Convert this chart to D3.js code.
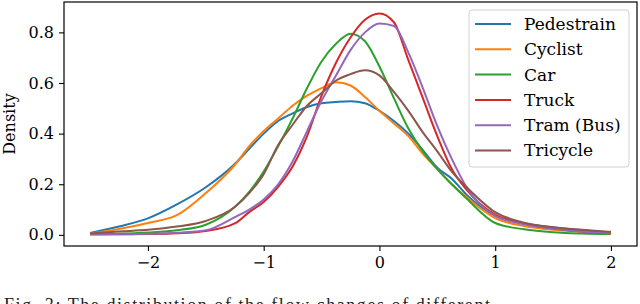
<!DOCTYPE html>
<html>
<head>
<meta charset="utf-8">
<script src="https://cdn.jsdelivr.net/npm/d3@7"></script>
<style>
  html, body { margin: 0; padding: 0; background: #fff; overflow: hidden; }
  svg { display: block; font-family: "DejaVu Serif", serif; }
</style>
</head>
<body>
<svg id="chart" width="640" height="304"></svg>
<script>
// shared x grid (flow change)
var xs = [-2.5, -2.25, -2, -1.75, -1.5, -1.25, -1.125, -1, -0.875, -0.75, -0.625, -0.5, -0.375, -0.25, -0.125,
          0, 0.125, 0.25, 0.375, 0.5, 0.625, 0.75, 1, 1.25, 1.5, 1.75, 2];

var pedestrain = [0.007, 0.033, 0.065, 0.12, 0.188, 0.28, 0.34, 0.40, 0.45, 0.48, 0.505, 0.52, 0.525, 0.528, 0.52,
                  0.49, 0.45, 0.40, 0.335, 0.265, 0.222, 0.16, 0.075, 0.045, 0.03, 0.018, 0.01];
var cyclist    = [0.005, 0.023, 0.047, 0.078, 0.165, 0.276, 0.35, 0.41, 0.46, 0.51, 0.55, 0.58, 0.603, 0.59, 0.545,
                  0.49, 0.44, 0.39, 0.32, 0.26, 0.2, 0.15, 0.066, 0.035, 0.02, 0.012, 0.008];
var car        = [0.002, 0.004, 0.009, 0.018, 0.04, 0.11, 0.17, 0.25, 0.35, 0.46, 0.58, 0.685, 0.755, 0.795, 0.765,
                  0.665, 0.54, 0.42, 0.33, 0.26, 0.2, 0.145, 0.047, 0.022, 0.01, 0.005, 0.003];
var truck      = [0.002, 0.002, 0.003, 0.006, 0.015, 0.045, 0.09, 0.13, 0.19, 0.27, 0.39, 0.55, 0.68, 0.78, 0.85,
                  0.875, 0.84, 0.69, 0.54, 0.39, 0.26, 0.18, 0.08, 0.045, 0.025, 0.013, 0.006];
var tram       = [0.002, 0.002, 0.004, 0.008, 0.018, 0.07, 0.10, 0.14, 0.20, 0.29, 0.41, 0.53, 0.63, 0.73, 0.80,
                  0.835, 0.825, 0.72, 0.58, 0.43, 0.30, 0.19, 0.075, 0.042, 0.025, 0.013, 0.006];
var tricycle   = [0.005, 0.013, 0.02, 0.033, 0.055, 0.11, 0.165, 0.24, 0.355, 0.435, 0.51, 0.56, 0.61, 0.635, 0.65,
                  0.63, 0.565, 0.49, 0.405, 0.33, 0.25, 0.19, 0.09, 0.048, 0.03, 0.02, 0.012];

var names  = ["Pedestrain", "Cyclist", "Car", "Truck", "Tram (Bus)", "Tricycle"];
var colors = ["#1f77b4", "#ff7f0e", "#2ca02c", "#d62728", "#9467bd", "#8c564b"];
var xTicks = [-2, -1, 0, 1, 2];
var yTicks = [0, 0.2, 0.4, 0.6, 0.8];

var series = [pedestrain, cyclist, car, truck, tram, tricycle];

var svg = d3.select("#chart");
var plotL = 64, plotR = 637, plotT = 2, plotB = 246;

var x = d3.scaleLinear().domain([-2.725, 2.225]).range([plotL, plotR]);
var y = d3.scaleLinear().domain([-0.044, 0.92]).range([plotB, plotT]);

// axes
svg.append("g")
    .attr("transform", "translate(0," + plotB + ")")
    .call(d3.axisBottom(x).tickValues(xTicks).tickSize(5).tickPadding(6).tickFormat(d3.format("d")))
    .call(function (g) { g.select(".domain").remove(); });

svg.append("g")
    .attr("transform", "translate(" + plotL + ",0)")
    .call(d3.axisLeft(y).tickValues(yTicks).tickSize(5).tickPadding(5).tickFormat(d3.format(".1f")))
    .call(function (g) { g.select(".domain").remove(); });

svg.selectAll(".tick line").attr("stroke", "#000").attr("stroke-width", 1.1);
svg.selectAll(".tick text").attr("fill", "#000").style("font-size", "16px").style("font-family", "DejaVu Serif");

// curves
var line = d3.line()
    .x(function (d) { return x(d[0]); })
    .y(function (d) { return y(d[1]); })
    .curve(d3.curveMonotoneX);

series.forEach(function (vals, i) {
    svg.append("path")
        .datum(xs.map(function (v, j) { return [v, vals[j]]; }))
        .attr("d", line)
        .attr("fill", "none")
        .attr("stroke", colors[i])
        .attr("stroke-width", 2);
});

// frame
svg.append("rect")
    .attr("x", plotL).attr("y", plotT)
    .attr("width", plotR - plotL).attr("height", plotB - plotT)
    .attr("fill", "none").attr("stroke", "#000").attr("stroke-width", 1.2);

// y label
svg.append("text")
    .attr("transform", "translate(15," + ((plotT + plotB) / 2) + ") rotate(-90)")
    .attr("text-anchor", "middle")
    .style("font-size", "16px")
    .text("Density");

// legend
var legend = svg.append("g");
legend.append("rect")
    .attr("x", 469).attr("y", 10)
    .attr("width", 160).attr("height", 157)
    .attr("rx", 3)
    .attr("fill", "#fff").attr("fill-opacity", 0.8)
    .attr("stroke", "#d0d0d0").attr("stroke-width", 1);

names.forEach(function (n, i) {
    var ly = 24 + i * 25.3;
    legend.append("line")
        .attr("x1", 475).attr("x2", 511)
        .attr("y1", ly).attr("y2", ly)
        .attr("stroke", colors[i]).attr("stroke-width", 2);
    legend.append("text")
        .attr("x", 524).attr("y", ly)
        .attr("dy", "0.35em")
        .style("font-size", "17px")
        .text(n);
});

// caption (cut at the bottom)
svg.append("text")
    .attr("x", 4).attr("y", 311)
    .attr("textLength", 486)
    .attr("lengthAdjust", "spacing")
    .style("font-family", "Liberation Serif")
    .style("font-size", "18px")
    .attr("fill", "#222")
    .text("Fig. 3:   The distribution of the flow changes of different");
</script>
</body>
</html>
